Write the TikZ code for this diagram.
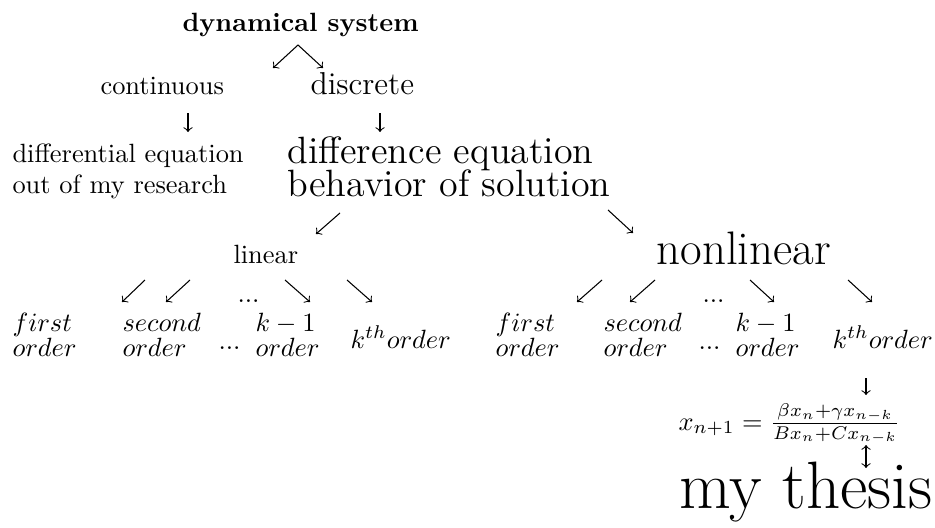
\documentclass[tikz,border=0pt]{standalone}
\newcommand\twoline[2]{\begin{tabular}[t]{@{}l@{}}#1\\#2\end{tabular}}
\newcommand\mrow[2]{\begin{tabular}[t]{@{}l@{}}#1\\[-2.5pt]#2\end{tabular}}
\begin{document}
\begin{tikzpicture}[x=0.3788pt,y=-0.3788pt,
  arr/.style={->,line width=0.4pt},
  darr/.style={<->,line width=0.4pt},
  lbl/.style={inner sep=0pt,anchor=base west,font=\fontsize{10}{12}\selectfont}]
\useasboundingbox (0,0) rectangle (935,527);
% texts
\node[lbl,font=\fontsize{10}{12}\selectfont\bfseries] (dyn) at (182,32) {dynamical system};
\node[lbl] (cont) at (100,95) {continuous};
\node[lbl,font=\large] (disc) at (310,95) {discrete};
\node[lbl] (diffl) at (12,162) {\twoline{differential equation}{out of my research}};
\node[lbl,font=\fontsize{14.4}{12}\selectfont] (diffc) at (287,163) {\twoline{difference equation}{[-1pt]behavior of solution}};
\node[lbl] (lin) at (233,263) {linear};
\node[lbl,font=\fontsize{17.8}{20}\selectfont] (nonlin) at (656,264) {nonlinear};
% linear row
\node[lbl] (ldots) at (237,302) {...};
\node[lbl] (l1) at (12,331) {\mrow{$first$}{$order$}};
\node[lbl] (l2) at (122,331) {\mrow{$second$}{$order$}};
\node[lbl] (l3) at (218,349) {...};
\node[lbl] (l4) at (255,331) {\mrow{$k-1$}{$order$}};
\node[lbl] (l5) at (350,348) {$k^{th}order$};
% nonlinear row
\node[lbl] (ndots) at (702,302) {...};
\node[lbl] (n1) at (495,331) {\mrow{$first$}{$order$}};
\node[lbl] (n2) at (603,331) {\mrow{$second$}{$order$}};
\node[lbl] (n3) at (698,349) {...};
\node[lbl] (n4) at (735,331) {\mrow{$k-1$}{$order$}};
\node[lbl] (n5) at (832,348) {$k^{th}order$};
% equation and thesis
\node[lbl] (eq) at (678,430) {$x_{n+1}=\frac{\beta x_n+\gamma x_{n-k}}{Bx_n+Cx_{n-k}}$};
\node[lbl,font=\fontsize{25.4}{30}\selectfont] (thesis) at (679,508) {my thesis};
% arrow end points
\coordinate (a1s) at (298,45);  \coordinate (a1e) at (273,68);
\coordinate (a2s) at (298,45);  \coordinate (a2e) at (323,68);
\coordinate (a3s) at (188,113); \coordinate (a3e) at (188,132);
\coordinate (a4s) at (380,113); \coordinate (a4e) at (380,132);
\coordinate (a5s) at (340,213); \coordinate (a5e) at (316,234);
\coordinate (a6s) at (608,210); \coordinate (a6e) at (633,233);
\coordinate (b1s) at (145,280); \coordinate (b1e) at (122,302);
\coordinate (b2s) at (190,280); \coordinate (b2e) at (166,302);
\coordinate (b3s) at (285,280); \coordinate (b3e) at (310,302);
\coordinate (b4s) at (347,280); \coordinate (b4e) at (372,302);
\coordinate (c1s) at (602,280); \coordinate (c1e) at (577,302);
\coordinate (c2s) at (655,280); \coordinate (c2e) at (630,302);
\coordinate (c3s) at (750,280); \coordinate (c3e) at (774,302);
\coordinate (c4s) at (848,280); \coordinate (c4e) at (872,302);
\coordinate (d1s) at (866,378); \coordinate (d1e) at (866,395);
\coordinate (d2s) at (866,445); \coordinate (d2e) at (866,468);
% arrows
\foreach \p in {a1,a2,a3,a4,a5,a6,b1,b2,b3,b4,c1,c2,c3,c4,d1}
  \draw[arr] (\p s) -- (\p e);
\draw[darr] (d2s) -- (d2e);
\end{tikzpicture}
\end{document}
